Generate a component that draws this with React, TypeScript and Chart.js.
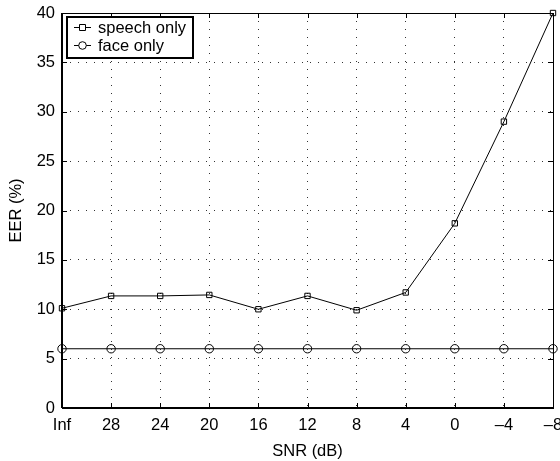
import React, { useEffect, useRef } from "react";
import { Chart, registerables } from "chart.js";

Chart.register(...registerables);

const snrLabels = ["Inf", "28", "24", "20", "16", "12", "8", "4", "0", "\u20134", "\u20138"];
const speechOnly = [10.1, 11.35, 11.35, 11.45, 10.0, 11.35, 9.9, 11.7, 18.7, 29.0, 40.0];
const faceOnly = [6, 6, 6, 6, 6, 6, 6, 6, 6, 6, 6];
const seriesNames = ["speech only", "face only"];
const yTicks = [0, 5, 10, 15, 20, 25, 30, 35, 40];

const FONT = "'Liberation Sans', Arial, Helvetica, sans-serif";
const FS = 16.5;

const framePlugin = {
  id: "matlabFrame",
  afterDatasetsDraw(chart: any) {
    const { ctx, chartArea: a, scales } = chart;
    ctx.save();
    ctx.strokeStyle = "#000";
    ctx.lineWidth = 1;
    const L = 5;
    ctx.beginPath();
    for (let i = 0; i < snrLabels.length; i++) {
      const x = Math.round(scales.x.getPixelForValue(i)) + 0.5;
      ctx.moveTo(x, a.bottom);
      ctx.lineTo(x, a.bottom - L);
      ctx.moveTo(x, a.top);
      ctx.lineTo(x, a.top + L);
    }
    for (const v of yTicks) {
      const y = Math.round(scales.y.getPixelForValue(v)) + 0.5;
      ctx.moveTo(a.left, y);
      ctx.lineTo(a.left + L, y);
      ctx.moveTo(a.right, y);
      ctx.lineTo(a.right - L, y);
    }
    ctx.stroke();
    ctx.strokeRect(Math.round(a.left) + 0.5, Math.round(a.top) + 0.5, Math.round(a.right - a.left), Math.round(a.bottom - a.top));
    ctx.lineWidth = 2;
    ctx.beginPath();
    ctx.moveTo(a.left, a.bottom);
    ctx.lineTo(a.right, a.bottom);
    ctx.moveTo(a.left, a.top);
    ctx.lineTo(a.left, a.bottom);
    ctx.stroke();

    // legend
    const lx = 67, ly = 17, lw = 126, lh = 41;
    ctx.fillStyle = "#fff";
    ctx.fillRect(lx, ly, lw, lh);
    ctx.lineWidth = 2;
    ctx.strokeRect(lx, ly, lw, lh);
    ctx.lineWidth = 1;
    ctx.font = `${FS}px ${FONT}`;
    ctx.textBaseline = "middle";
    ctx.textAlign = "left";
    const rows = [ly + 10, ly + 28];
    rows.forEach((ry, i) => {
      ctx.strokeStyle = "#000";
      ctx.beginPath();
      ctx.moveTo(lx + 7, ry + 0.5);
      ctx.lineTo(lx + 24, ry + 0.5);
      ctx.stroke();
      ctx.beginPath();
      if (i === 0) {
        ctx.rect(lx + 12.5, ry - 2.5, 6, 6);
      } else {
        ctx.arc(lx + 15.5, ry + 0.5, 3.8, 0, Math.PI * 2);
      }
      ctx.fillStyle = "#fff";
      ctx.fill();
      ctx.stroke();
      ctx.fillStyle = "#000";
      ctx.fillText(seriesNames[i], lx + 31, ry + 1);
    });
    ctx.restore();
  },
};

export default function App() {
  const ref = useRef<HTMLCanvasElement>(null);
  useEffect(() => {
    document.body.style.margin = "0";
    const chart = new Chart(ref.current!, {
      type: "line",
      data: {
        labels: snrLabels,
        datasets: [
          {
            label: seriesNames[0],
            data: speechOnly,
            borderColor: "#000",
            borderWidth: 1,
            pointStyle: "rect",
            pointRadius: 3.8,
            pointBackgroundColor: "rgba(255,255,255,0)",
            pointBorderColor: "#000",
            pointBorderWidth: 1,
            tension: 0,
            clip: false as any,
          },
          {
            label: seriesNames[1],
            data: faceOnly,
            borderColor: "#000",
            borderWidth: 1,
            pointStyle: "circle",
            pointRadius: 4.2,
            pointBackgroundColor: "rgba(255,255,255,0)",
            pointBorderColor: "#000",
            pointBorderWidth: 1,
            tension: 0,
            clip: false as any,
          },
        ],
      },
      options: {
        animation: false,
        responsive: false,
        maintainAspectRatio: false,
        layout: { padding: { top: 13, right: 7, left: 0, bottom: 0 } },
        plugins: { legend: { display: false }, tooltip: { enabled: false } },
        scales: {
          x: {
            type: "category",
            offset: false,
            border: { display: false, dash: [1, 7] } as any,
            grid: {
              color: "#333",
              lineWidth: 1,
              drawTicks: false,
            },
            ticks: {
              color: "#000",
              font: { family: FONT, size: FS },
              padding: 8,
              maxRotation: 0,
              autoSkip: false,
            },
            title: {
              display: true,
              text: "SNR (dB)",
              color: "#000",
              font: { family: FONT, size: FS },
              padding: { top: 6, bottom: 0 },
            },
            afterFit(s: any) {
              s.height = 53;
              s.paddingRight = 0;
              s.paddingLeft = 0;
            },
          },
          y: {
            min: 0,
            max: 40,
            border: { display: false, dash: [1, 7] } as any,
            grid: {
              color: "#333",
              lineWidth: 1,
              drawTicks: false,
            },
            ticks: {
              stepSize: 5,
              color: "#000",
              font: { family: FONT, size: FS },
              padding: 7,
            },
            title: {
              display: true,
              text: "EER (%)",
              color: "#000",
              font: { family: FONT, size: FS },
              padding: { top: 7, bottom: 2 },
            },
            afterFit(s: any) {
              s.width = 62;
              s.paddingTop = 0;
              s.paddingBottom = 0;
            },
          },
        },
      },
      plugins: [framePlugin],
    });
    return () => chart.destroy();
  }, []);
  return (
    <div style={{ position: "absolute", left: 0, top: 0, width: 560, height: 461, background: "#fff" }}>
      <canvas ref={ref} width={560} height={461} style={{ width: 560, height: 461, display: "block" }} />
    </div>
  );
}
